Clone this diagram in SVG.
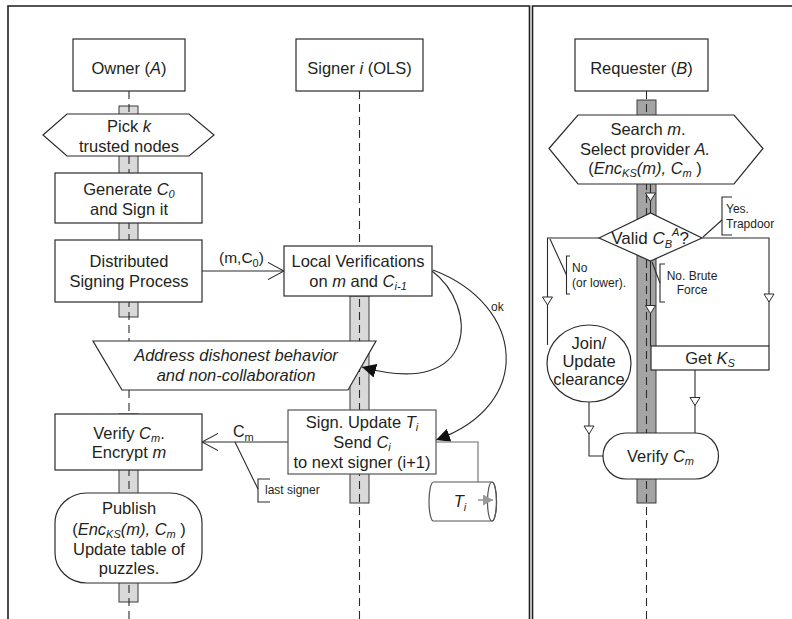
<svg xmlns="http://www.w3.org/2000/svg" width="792" height="619" viewBox="0 0 792 619">
  <defs>
    <style>
      text { font-family: "Liberation Sans", Arial, sans-serif; fill: #231f20; }
      .t { font-size: 16.5px; text-anchor: middle; }
      .s { font-size: 12px; }
      .i { font-style: italic; }
      .sub { font-size: 11px; }
      .box { fill: #fff; stroke: #2b2b2b; stroke-width: 1.2; }
      .frame { fill: none; stroke: #1e1e1e; stroke-width: 1.6; }
      .life { fill: none; stroke: #2b2b2b; stroke-width: 1.1; stroke-dasharray: 8 5; }
      .bar { fill: #d9d9d9; stroke: #3a3a3a; stroke-width: 1; }
      .bar-dark { fill: #a4a4a4; stroke: #3a3a3a; stroke-width: 1; }
      .ln { fill: none; stroke: #2b2b2b; stroke-width: 1.1; }
      .gray { fill: none; stroke: #9a9a9a; stroke-width: 1.6; }
      .tri { fill: #fff; stroke: #2b2b2b; stroke-width: 1; }
    </style>
    <marker id="vee" viewBox="0 0 17 18" refX="16" refY="9" markerWidth="17" markerHeight="18" markerUnits="userSpaceOnUse" orient="auto">
      <path d="M0,0.5 L16,9 L0,17.5" fill="none" stroke="#2b2b2b" stroke-width="1.1"/>
    </marker>
    <marker id="solid" viewBox="0 0 14 14" refX="14" refY="7" markerWidth="14" markerHeight="14" markerUnits="userSpaceOnUse" orient="auto">
      <path d="M0,0 L14,7 L0,14 Z" fill="#111"/>
    </marker>
    <marker id="grayhead" viewBox="0 0 10 11" refX="10" refY="5.5" markerWidth="10" markerHeight="11" markerUnits="userSpaceOnUse" orient="auto">
      <path d="M0,0 L10,5.5 L0,11 Z" fill="#9a9a9a"/>
    </marker>
    <path id="tri" d="M-5,-4 H5 L0,4 Z"/>
  </defs>

  <!-- panel frames -->
  <g id="frames">
    <path class="frame" d="M8,619 V6 H529.5 V619"/>
    <path class="frame" d="M532.5,619 V6 H792"/>
  </g>

  <!-- activation bars -->
  <g id="bars">
    <rect class="bar" x="119" y="106" width="19" height="211"/>
    <rect class="bar" x="119" y="414" width="19" height="188"/>
    <rect class="bar" x="350" y="296" width="19" height="207"/>
    <rect class="bar-dark" x="637" y="100" width="19" height="403"/>
  </g>

  <!-- lifelines -->
  <g id="lifelines">
    <line class="life" x1="129" y1="91" x2="129" y2="619"/>
    <line class="life" x1="359.5" y1="91" x2="359.5" y2="619"/>
    <line class="life" x1="646.5" y1="91" x2="646.5" y2="619"/>
  </g>

  <!-- connectors -->
  <g id="connectors">
    <!-- owner / signer exchange -->
    <line class="ln" x1="202" y1="271" x2="284" y2="271" marker-end="url(#vee)"/>
    <text x="219" y="263" style="font-size:15.5px">(m,C<tspan class="sub" dy="4">0</tspan><tspan dy="-4">)</tspan></text>
    <path class="ln" d="M432,271 C478,305 480,400 362,367" marker-end="url(#solid)"/>
    <path class="ln" d="M433,270 C525,305 535,405 436,440" marker-end="url(#solid)"/>
    <text class="s" x="491" y="311">ok</text>
    <line class="ln" x1="288" y1="442" x2="202" y2="442" marker-end="url(#vee)"/>
    <text x="233" y="437" style="font-size:16px">C<tspan class="sub" dy="4">m</tspan></text>
    <path class="ln" d="M235,442 L258,489"/>
    <path class="ln" d="M270,479 H258 V502 H270"/>
    <text class="s" x="265" y="494">last signer</text>
    <path class="gray" d="M436,442 H478 V500 H493" marker-end="url(#grayhead)"/>

    <!-- requester flow -->
    <path class="ln" d="M650.5,184 V213"/>
    <use href="#tri" class="tri" x="650.5" y="197"/>
    <path class="ln" d="M599,238 H547.5 V345"/>
    <use href="#tri" class="tri" x="547.5" y="301"/>
    <path class="ln" d="M550,239 L566.5,275"/>
    <path class="ln" d="M570,256 H566.5 V294 H570"/>
    <text class="s" x="572" y="272">No</text>
    <text class="s" x="572" y="287">(or lower).</text>
    <path class="ln" d="M650.5,261 V346"/>
    <use href="#tri" class="tri" x="650.5" y="309.5"/>
    <path class="ln" d="M652,262 L660,283"/>
    <path class="ln" d="M665,264 H660 V302 H665"/>
    <text class="s" x="692" y="280" text-anchor="middle">No. Brute</text>
    <text class="s" x="692" y="294" text-anchor="middle">Force</text>
    <path class="ln" d="M702,238 H769 V346"/>
    <use href="#tri" class="tri" x="769" y="298"/>
    <path class="ln" d="M703,237 L722,220"/>
    <path class="ln" d="M732,197 H722 V235 H732"/>
    <text class="s" x="726" y="213">Yes.</text>
    <text class="s" x="726" y="227.5">Trapdoor</text>
    <path class="ln" d="M695,370 V433"/>
    <use href="#tri" class="tri" x="695" y="401.5"/>
    <path class="ln" d="M589,402 V456 H603"/>
    <use href="#tri" class="tri" x="589" y="430"/>
  </g>

  <!-- owner column -->
  <g id="owner">
    <rect class="box" x="73" y="39" width="112" height="52"/>
    <text class="t" x="129" y="74">Owner (<tspan class="i">A</tspan>)</text>
  </g>
  <g id="pick-nodes">
    <polygon class="box" points="43,135 67,114 189,114 214,135 189,156 67,156"/>
    <text class="t" x="129" y="132">Pick <tspan class="i">k</tspan></text>
    <text class="t" x="129" y="151.5">trusted nodes</text>
  </g>
  <g id="generate">
    <rect class="box" x="55" y="173" width="147" height="50"/>
    <text class="t" x="129" y="195">Generate <tspan class="i">C</tspan><tspan class="i sub" dy="3">0</tspan></text>
    <text class="t" x="129" y="215">and Sign it</text>
  </g>
  <g id="distributed">
    <rect class="box" x="55" y="240" width="147" height="62"/>
    <text class="t" x="129" y="267">Distributed</text>
    <text class="t" x="129" y="286.5">Signing Process</text>
  </g>
  <g id="verify-encrypt">
    <rect class="box" x="55" y="414" width="147" height="56"/>
    <text class="t" x="129" y="438.5">Verify <tspan class="i">C</tspan><tspan class="i sub" dy="3">m</tspan><tspan dy="-3">.</tspan></text>
    <text class="t" x="129" y="458">Encrypt <tspan class="i">m</tspan></text>
  </g>
  <g id="publish">
    <rect class="box" x="55" y="493" width="147" height="90" rx="32" ry="30"/>
    <text class="t" x="129" y="514">Publish</text>
    <text class="t" x="129" y="535">(<tspan class="i">Enc</tspan><tspan class="i sub" dy="3">KS</tspan><tspan class="i" dy="-3">(m), C</tspan><tspan class="i sub" dy="3">m</tspan><tspan dy="-3"> )</tspan></text>
    <text class="t" x="129" y="554.5">Update table of</text>
    <text class="t" x="129" y="573.5">puzzles.</text>
  </g>

  <!-- signer column -->
  <g id="signer">
    <rect class="box" x="296" y="39" width="127" height="52"/>
    <text class="t" x="359.5" y="74">Signer <tspan class="i">i</tspan> (OLS)</text>
  </g>
  <g id="local-verifications">
    <rect class="box" x="284" y="246" width="148" height="50"/>
    <text class="t" x="358" y="266.5">Local Verifications</text>
    <text class="t" x="358" y="287">on <tspan class="i">m</tspan> and <tspan class="i">C</tspan><tspan class="i sub" dy="3">i-1</tspan></text>
  </g>
  <g id="dishonest">
    <polygon class="box" points="93,341 376,341 348,390 122,390"/>
    <text class="t i" x="236" y="361">Address dishonest behavior</text>
    <text class="t i" x="236" y="381">and non-collaboration</text>
  </g>
  <g id="sign-update">
    <rect class="box" x="288" y="410" width="148" height="64" style="stroke:#555"/>
    <text class="t" x="362" y="428">Sign. Update <tspan class="i">T</tspan><tspan class="i sub" dy="3">i</tspan></text>
    <text class="t" x="362" y="448">Send <tspan class="i">C</tspan><tspan class="i sub" dy="3">i</tspan></text>
    <text class="t" x="362" y="468">to next signer (i+1)</text>
  </g>
  <g id="table-ti">
    <path d="M433.5,482 H492 A4.5,19.5 0 0 1 492,521 H433.5 A4.5,19.5 0 0 1 433.5,482 Z" fill="#fff" stroke="#555" stroke-width="1.2"/>
    <ellipse cx="492" cy="501.5" rx="4.5" ry="19.5" fill="none" stroke="#555" stroke-width="1.2"/>
    <text class="t i" x="460" y="507">T<tspan class="sub" dy="4">i</tspan></text>
  </g>
  <path class="gray" d="M478,500 H493" marker-end="url(#grayhead)"/>

  <!-- requester column -->
  <g id="requester">
    <rect class="box" x="575" y="39" width="133" height="52"/>
    <text class="t" x="641.5" y="74">Requester (<tspan class="i">B</tspan>)</text>
  </g>
  <g id="search">
    <polygon class="box" points="549,148.5 578,115 734,115 763,148.5 734,184 578,184"/>
    <text class="t" x="648" y="134.5">Search <tspan class="i">m</tspan>.</text>
    <text class="t" x="645" y="154.5">Select provider <tspan class="i">A.</tspan></text>
    <text class="t" x="645" y="174">(<tspan class="i">Enc</tspan><tspan class="i sub" dy="3">KS</tspan><tspan class="i" dy="-3">(m), C</tspan><tspan class="i sub" dy="3">m</tspan><tspan dy="-3"> )</tspan></text>
  </g>
  <g id="valid-decision">
    <polygon class="box" points="599,238 650.5,213 702,238 650.5,261"/>
    <text class="t" x="650" y="243.5" style="font-size:17px">Valid <tspan class="i">C</tspan><tspan class="i sub" dy="4">B</tspan><tspan class="i sub" dy="-12">A</tspan><tspan dy="8">?</tspan></text>
  </g>
  <g id="join-update">
    <ellipse class="box" cx="589" cy="363.5" rx="42" ry="38.5"/>
    <text class="t" x="589" y="349">Join/</text>
    <text class="t" x="589" y="367">Update</text>
    <text class="t" x="589" y="385">clearance</text>
  </g>
  <g id="get-ks">
    <rect class="box" x="651" y="346" width="118" height="24"/>
    <text class="t" x="710" y="364">Get <tspan class="i">K</tspan><tspan class="i sub" dy="3">S</tspan></text>
  </g>
  <g id="verify-cm">
    <rect class="box" x="603" y="433" width="115.5" height="46" rx="23" ry="23"/>
    <text class="t" x="660.5" y="461.5">Verify <tspan class="i">C</tspan><tspan class="i sub" dy="3">m</tspan></text>
  </g>
</svg>
